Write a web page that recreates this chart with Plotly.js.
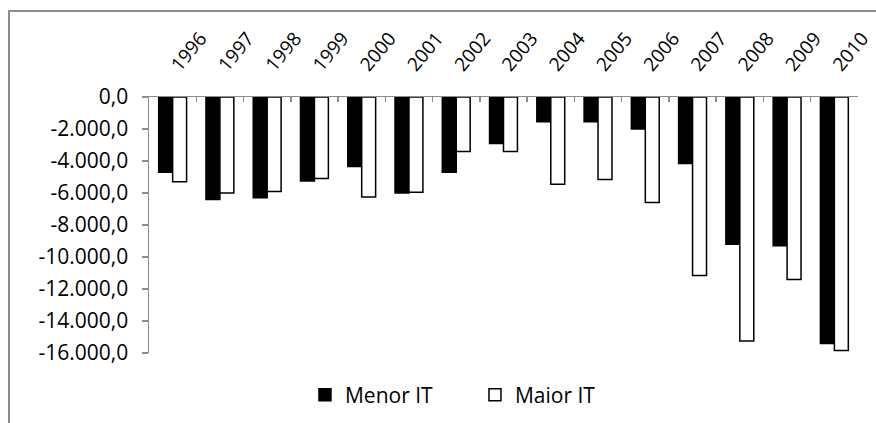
<!DOCTYPE html>
<html>
<head>
<meta charset="utf-8">
<script src="https://cdn.plot.ly/plotly-3.0.1.min.js"></script>
<style>
html,body{margin:0;padding:0;background:#fff;}
#wrap{position:relative;width:876px;height:423px;overflow:hidden;}
#chart{position:absolute;left:0;top:0;width:876px;height:423px;}
#frame{position:absolute;left:8px;top:10px;width:900px;height:440px;border-left:2px solid #8c8c8c;border-top:2px solid #8c8c8c;pointer-events:none;}
</style>
</head>
<body>
<div id="wrap"><div id="chart"></div><div id="frame"></div></div>
<script>
const years = ['1996','1997','1998','1999','2000','2001','2002','2003','2004','2005','2006','2007','2008','2009','2010'];
const menorIT = [-4700,-6400,-6300,-5250,-4350,-6000,-4700,-2900,-1550,-1550,-2000,-4150,-9200,-9300,-15400];
const maiorIT = [-5300,-6000,-5900,-5100,-6250,-5950,-3400,-3400,-5450,-5150,-6600,-11150,-15250,-11400,-15850];
const yTickVals = [0,-2000,-4000,-6000,-8000,-10000,-12000,-14000,-16000];
const yTickText = ['0,0','-2.000,0','-4.000,0','-6.000,0','-8.000,0','-10.000,0','-12.000,0','-14.000,0','-16.000,0'];

const font = {family:'Open Sans, sans-serif', size:21, color:'#000'};
const xfont = {family:'Open Sans, sans-serif', size:19, color:'#000'};
const data = [
  {type:'bar', name:'Menor IT', x:years, y:menorIT,
   marker:{color:'#000', line:{color:'#000', width:1.5}}},
  {type:'bar', name:'Maior IT', x:years, y:maiorIT,
   marker:{color:'#fff', line:{color:'#000', width:1.5}}}
];
const layout = {
  width:876, height:423,
  margin:{l:149, r:18, t:97, b:70, autoexpand:false},
  paper_bgcolor:'#fff', plot_bgcolor:'#fff',
  font:font,
  barmode:'group', bargap:0.41, bargroupgap:0,
  showlegend:true,
  legend:{orientation:'h', x:0.22, xanchor:'left', yref:'container', y:0.066, yanchor:'middle',
          font:font, entrywidth:125, bgcolor:'rgba(0,0,0,0)'},
  xaxis:{type:'category', side:'top', tickangle:-50, showgrid:false, zeroline:false,
         showline:true, linecolor:'#8c8c8c', linewidth:1.5, automargin:false,
         ticks:'inside', tickson:'boundaries', ticklen:5, tickcolor:'#8c8c8c', tickwidth:1.5,
         ticklabelstandoff:12, tickfont:xfont, fixedrange:true},
  yaxis:{range:[-16000,0], showgrid:false, zeroline:false, automargin:false,
         showline:true, linecolor:'#8c8c8c', linewidth:1.5,
         ticks:'outside', ticklen:6, tickcolor:'#8c8c8c', tickwidth:1.5,
         tickvals:yTickVals, ticktext:yTickText, ticklabelstandoff:9, tickfont:font, fixedrange:true}
};
Plotly.newPlot('chart', data, layout, {displayModeBar:false, staticPlot:true});
</script>
</body>
</html>
